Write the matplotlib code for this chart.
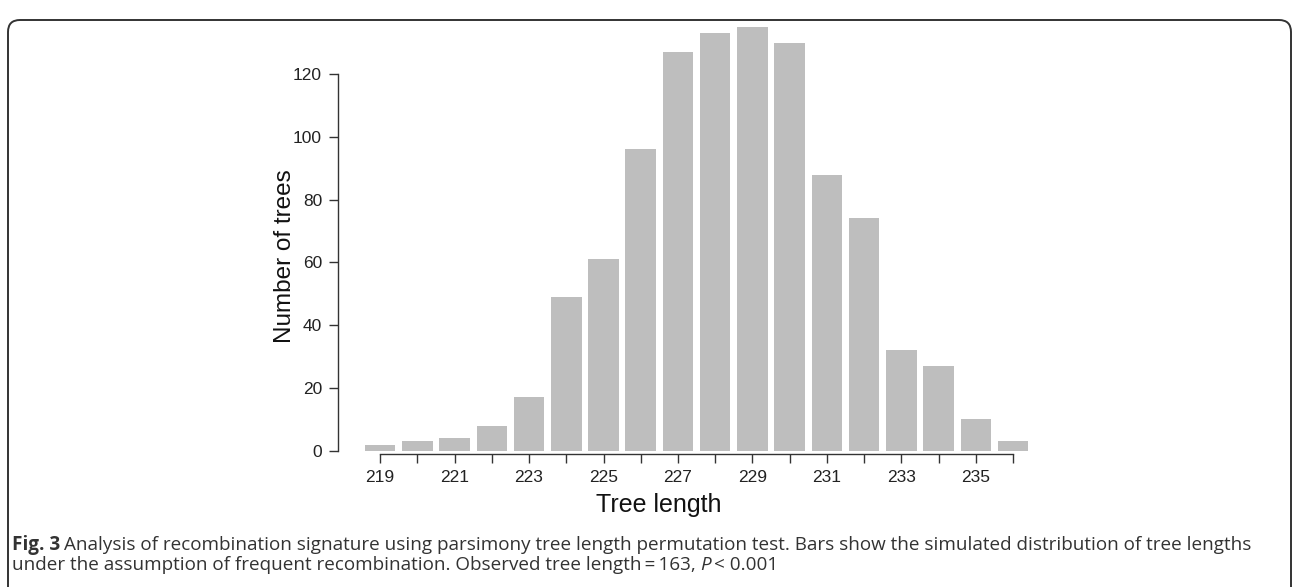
import numpy as np
import matplotlib
matplotlib.use("Agg")
import matplotlib.pyplot as plt
from matplotlib.patches import FancyBboxPatch

# tree length histogram
tree_length = [219, 220, 221, 222, 223, 224, 225, 226, 227, 228, 229, 230, 231, 232, 233, 234, 235, 236]
n_trees = [2, 3, 4, 8, 17, 49, 61, 96, 127, 133, 135, 130, 88, 74, 32, 27, 10, 3]
xticks = [219, 221, 223, 225, 227, 229, 231, 233, 235]
yticks = [0, 20, 40, 60, 80, 100, 120]

W, H = 1293, 587
fig = plt.figure(figsize=(W / 100, H / 100), dpi=100)
plt.rcParams['font.family'] = ['Liberation Sans', 'DejaVu Sans']

# axes box in pixel coords (from top-left)
left, right, top, bottom = 338, 1050, 20, 454
ax = fig.add_axes([left / W, 1 - bottom / H, (right - left) / W, (bottom - top) / H])

ax.bar(tree_length, n_trees, width=0.82, color='#bebebe', edgecolor='none')

ax.set_xlim(217.87, 236.99)
ax.set_ylim(-1.0, 137.2)

for s in ['top', 'right']:
    ax.spines[s].set_visible(False)
ax.spines['left'].set_bounds(0, 120)
ax.spines['bottom'].set_bounds(219, 236)
for s in ['left', 'bottom']:
    ax.spines[s].set_color('#333333')
    ax.spines[s].set_linewidth(1.0)

ax.set_yticks(yticks)
ax.set_xticks(range(219, 237))
ax.set_xticklabels([str(t) if t in xticks else '' for t in range(219, 237)])
ax.tick_params(axis='both', length=6.5, width=1.0, color='#333333', labelsize=12.5, labelcolor='#222222')
ax.tick_params(axis='x', pad=5)
ax.tick_params(axis='y', pad=5)

ax.set_xlabel('Tree length', fontsize=18, color='#111111')
ax.set_ylabel('Number of trees', fontsize=17.5, color='#111111')
ax.xaxis.set_label_coords((659 - left) / (right - left), (bottom - 493) / (bottom - top))
ax.yaxis.set_label_coords((296 - left) / (right - left), (bottom - 256) / (bottom - top))

# rounded frame around the figure (open at the bottom)
frame = FancyBboxPatch((8, -40), W - 10, H - 10 + 40 - 10,
                       boxstyle='round,pad=0,rounding_size=12',
                       transform=None, fill=False, edgecolor='#333333', linewidth=1.4,
                       clip_on=False)
fig.patches.append(frame)

# caption
cap_font = ['Open Sans', 'DejaVu Sans']
cap_kw = dict(fontsize=13.6, family=cap_font, color='#333333', va='baseline')
fig.canvas.draw()
r = fig.canvas.get_renderer()
y1 = 1 - 550 / H
y2 = 1 - 570 / H
t1 = fig.text(12 / W, y1, 'Fig. 3', fontweight='bold', **cap_kw)
bb = t1.get_window_extent(renderer=r)
fig.text((bb.x1 + 4) / W, y1,
         'Analysis of recombination signature using parsimony tree length permutation test. '
         'Bars show the simulated distribution of tree lengths', **cap_kw)
t3 = fig.text(12 / W, y2,
              'under the assumption of frequent recombination. Observed tree length\u2009=\u2009163, ',
              **cap_kw)
bb3 = t3.get_window_extent(renderer=r)
t4 = fig.text(bb3.x1 / W, y2, 'P', style='italic', **cap_kw)
bb4 = t4.get_window_extent(renderer=r)
fig.text((bb4.x1 + 3) / W, y2, '< 0.001', **cap_kw)

fig.savefig('out.png', dpi=100)
